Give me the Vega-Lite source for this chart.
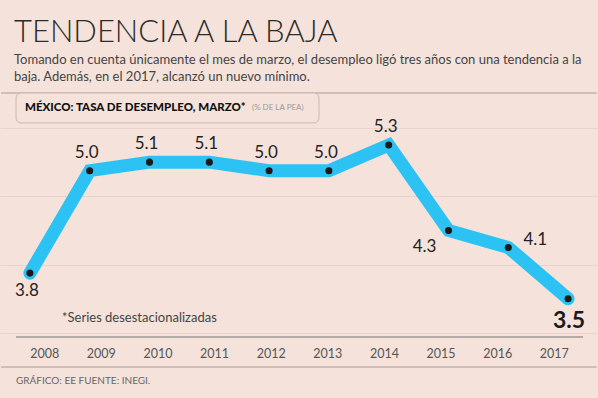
{
  "$schema": "https://vega.github.io/schema/vega-lite/v6.json",
  "width": 598,
  "height": 210,
  "autosize": "none",
  "padding": {"top": 128, "left": 0, "right": 0, "bottom": 60},
  "background": "#f5e3db",
  "config": {"view": {"stroke": null}, "font": "Lato"},
  "title": {
    "text": "TENDENCIA A LA BAJA",
    "subtitle": ["Tomando en cuenta únicamente el mes de marzo, el desempleo ligó tres años con una tendencia a la", "baja. Además, en el 2017, alcanzó un nuevo mínimo."],
    "anchor": "start",
    "frame": "group",
    "dx": 14,
    "offset": 7,
    "font": "Lato",
    "fontWeight": 300,
    "fontSize": 31,
    "color": "#2b2b2b",
    "subtitleFont": "Lato",
    "subtitleFontSize": 13,
    "subtitleColor": "#444444",
    "subtitleLineHeight": 17,
    "subtitlePadding": 5
  },
  "data": {"values": [
    {"year": 2008, "value": 3.8},
    {"year": 2009, "value": 5.0},
    {"year": 2010, "value": 5.1},
    {"year": 2011, "value": 5.1},
    {"year": 2012, "value": 5.0},
    {"year": 2013, "value": 5.0},
    {"year": 2014, "value": 5.3},
    {"year": 2015, "value": 4.3},
    {"year": 2016, "value": 4.1},
    {"year": 2017, "value": 3.5}
  ]},
  "resolve": {"scale": {"x": "independent"}},
  "layer": [
    {
      "layer": [
        {
          "mark": {"type": "line", "color": "#2cc3f4", "strokeWidth": 13, "strokeCap": "round", "strokeJoin": "miter"},
          "encoding": {
            "x": {"field": "year", "type": "quantitative", "scale": {"domain": [2007.5, 2017.5], "nice": false, "zero": false}, "axis": null},
            "y": {"field": "value", "type": "quantitative", "scale": {"domain": [3.04, 5.5], "nice": false, "zero": false},
              "axis": {"values": [3.1, 3.5, 3.9, 4.3, 4.7, 5.1, 5.5], "labels": false, "ticks": false, "domain": false, "title": null, "grid": true, "gridColor": "#e9d3ca", "gridWidth": 1, "gridOpacity": 1}}
          }
        },
        {
          "mark": {"type": "point", "filled": true, "color": "#1a1a1a", "size": 50, "opacity": 1},
          "encoding": {
            "x": {"field": "year", "type": "quantitative"},
            "y": {"field": "value", "type": "quantitative"}
          }
        },
        {
          "transform": [{"filter": "datum.year >= 2009 && datum.year <= 2014"}],
          "mark": {"type": "text", "font": "Lato", "fontSize": 17, "color": "#222222", "dx": -3, "dy": -18},
          "encoding": {
            "x": {"field": "year", "type": "quantitative"},
            "y": {"field": "value", "type": "quantitative"},
            "text": {"field": "value", "type": "quantitative", "format": ".1f"}
          }
        },
        {
          "transform": [{"filter": "datum.year == 2008"}],
          "mark": {"type": "text", "font": "Lato", "fontSize": 17, "color": "#222222", "dx": -3, "dy": 18},
          "encoding": {
            "x": {"field": "year", "type": "quantitative"},
            "y": {"field": "value", "type": "quantitative"},
            "text": {"field": "value", "type": "quantitative", "format": ".1f"}
          }
        },
        {
          "transform": [{"filter": "datum.year == 2015"}],
          "mark": {"type": "text", "font": "Lato", "fontSize": 17, "color": "#222222", "dx": -24, "dy": 17},
          "encoding": {
            "x": {"field": "year", "type": "quantitative"},
            "y": {"field": "value", "type": "quantitative"},
            "text": {"field": "value", "type": "quantitative", "format": ".1f"}
          }
        },
        {
          "transform": [{"filter": "datum.year == 2016"}],
          "mark": {"type": "text", "font": "Lato", "fontSize": 17, "color": "#222222", "dx": 27, "dy": -8},
          "encoding": {
            "x": {"field": "year", "type": "quantitative"},
            "y": {"field": "value", "type": "quantitative"},
            "text": {"field": "value", "type": "quantitative", "format": ".1f"}
          }
        },
        {
          "transform": [{"filter": "datum.year == 2017"}],
          "mark": {"type": "text", "font": "Lato", "fontSize": 23, "fontWeight": "bold", "color": "#1a1a1a", "dx": 1, "dy": 22},
          "encoding": {
            "x": {"field": "year", "type": "quantitative"},
            "y": {"field": "value", "type": "quantitative"},
            "text": {"field": "value", "type": "quantitative", "format": ".1f"}
          }
        },
        {
          "data": {"values": [{}]},
          "mark": {"type": "rule", "color": "#c4b2aa", "strokeWidth": 1.5},
          "encoding": {"x": {"datum": 2007.52}, "x2": {"datum": 2017.48}, "y": {"datum": 5.91}}
        },
        {
          "data": {"values": [{}]},
          "mark": {"type": "rect", "fill": "#f5e3db", "stroke": "#cbb9b1", "strokeWidth": 1, "cornerRadius": 5},
          "encoding": {
            "x": {"datum": 2007.768}, "x2": {"datum": 2012.834},
            "y": {"datum": 5.91}, "y2": {"datum": 5.559}
          }
        },
        {
          "data": {"values": [{}]},
          "mark": {"type": "text", "font": "Lato", "fontWeight": 900, "fontSize": 11.5, "color": "#111111", "align": "left", "baseline": "middle", "text": "MÉXICO: TASA DE DESEMPLEO, MARZO*"},
          "encoding": {"x": {"datum": 2007.918}, "y": {"datum": 5.734}}
        },
        {
          "data": {"values": [{}]},
          "mark": {"type": "text", "font": "Lato", "fontSize": 8, "color": "#9a9a9a", "align": "left", "baseline": "middle", "text": "(% DE LA PEA)"},
          "encoding": {"x": {"datum": 2011.714}, "y": {"datum": 5.734}}
        },
        {
          "data": {"values": [{}]},
          "mark": {"type": "text", "font": "Lato", "fontSize": 13, "color": "#444444", "align": "left", "baseline": "middle", "text": "*Series desestacionalizadas"},
          "encoding": {"x": {"datum": 2008.537}, "y": {"datum": 3.274}}
        },
        {
          "data": {"values": [{}]},
          "mark": {"type": "rule", "color": "#b3aaa6", "strokeWidth": 2},
          "encoding": {"x": {"datum": 2007.768}, "x2": {"datum": 2017.25}, "y": {"datum": 3.052}}
        },
        {
          "data": {"values": [{}]},
          "mark": {"type": "rule", "color": "#c2b2ab", "strokeWidth": 1.5},
          "encoding": {"x": {"datum": 2007.52}, "x2": {"datum": 2017.48}, "y": {"datum": 2.70}}
        },
        {
          "data": {"values": [{}]},
          "mark": {"type": "text", "font": "Lato", "fontSize": 10, "color": "#666666", "align": "left", "baseline": "middle", "text": "GRÁFICO: EE  FUENTE: INEGI."},
          "encoding": {"x": {"datum": 2007.768}, "y": {"datum": 2.536}}
        }
      ]
    },
    {
      "mark": {"type": "point", "opacity": 0},
      "encoding": {
        "x": {"field": "year", "type": "quantitative", "scale": {"domain": [2007.22, 2017.78], "nice": false, "zero": false},
          "axis": {"orient": "bottom", "values": [2008, 2009, 2010, 2011, 2012, 2013, 2014, 2015, 2016, 2017], "format": "d", "domain": false, "ticks": false, "grid": false, "title": null, "labelPadding": 9, "labelFont": "Lato", "labelFontSize": 12.5, "labelColor": "#555555", "labelFlush": false}},
        "y": {"datum": 4}
      }
    }
  ]
}
